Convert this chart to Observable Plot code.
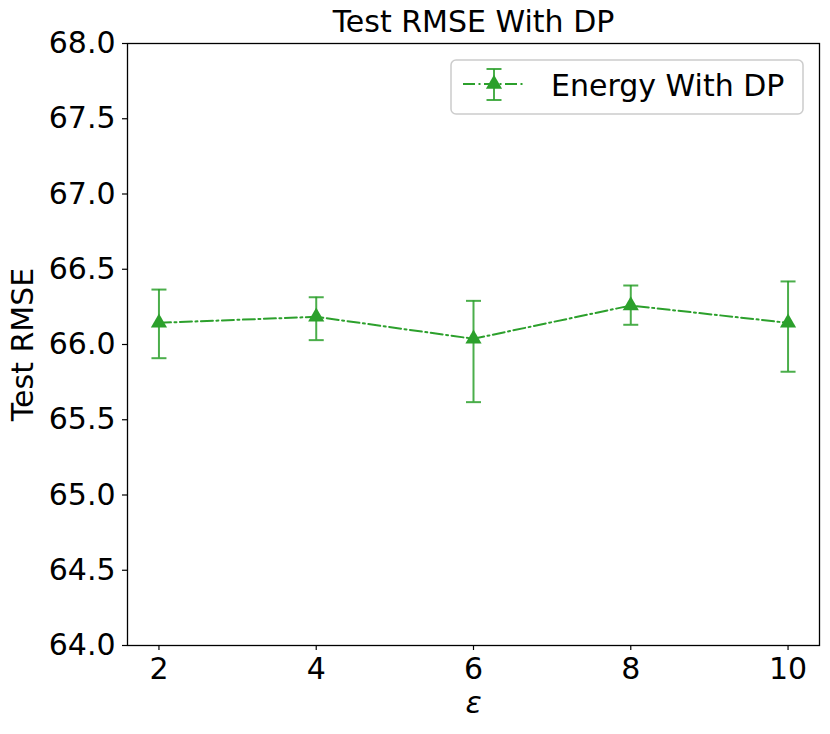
<!DOCTYPE html>
<html>
<head>
<meta charset="utf-8">
<script src="https://cdn.jsdelivr.net/npm/d3@7"></script>
<script src="https://cdn.jsdelivr.net/npm/@observablehq/plot@0.6"></script>
<style>
  body { margin: 0; background: white; font-family: "DejaVu Sans", sans-serif; }
  #wrap { position: relative; width: 830px; height: 734px; }
  #legend { position: absolute; left: 450px; top: 59px; }
</style>
</head>
<body>
<div id="wrap"></div>
<script>
const epsilon = [2, 4, 6, 8, 10];
const rmseMean = [66.144, 66.184, 66.038, 66.259, 66.144];
const rmseLow  = [65.909, 66.029, 65.617, 66.131, 65.819];
const rmseHigh = [66.365, 66.314, 66.290, 66.392, 66.419];
const xTicks = [2, 4, 6, 8, 10];
const yTicks = [64, 64.5, 65, 65.5, 66, 66.5, 67, 67.5, 68];
const seriesName = "Energy With DP";
const titleText = "Test RMSE With DP";
const yLabel = "Test RMSE";
const xLabel = "ε";

const green = "#2ca02c";
const data = epsilon.map((e, i) => ({eps: e, mean: rmseMean[i], low: rmseLow[i], high: rmseHigh[i]}));

const capSymbol = {
  draw(context, size) {
    const w = Math.sqrt(size / Math.PI);
    context.moveTo(-w, 0);
    context.lineTo(w, 0);
  }
};

const chart = Plot.plot({
  width: 830,
  height: 734,
  marginLeft: 127,
  marginRight: 11,
  marginTop: 43,
  marginBottom: 89,
  style: {fontFamily: "DejaVu Sans", fontSize: "30px", color: "black", background: "white"},
  x: {domain: [1.6, 10.4]},
  y: {domain: [64, 68]},
  marks: [
    Plot.axisX({ticks: xTicks, tickSize: 5, tickPadding: 7, fontSize: 30, label: null, strokeWidth: 1.2}),
    Plot.axisY({ticks: yTicks, tickFormat: d3.format(".1f"), tickSize: 5, tickPadding: 7, fontSize: 30, label: null, strokeWidth: 1.2}),
    Plot.ruleX(data, {x: "eps", y1: "low", y2: "high", stroke: green, strokeWidth: 2, strokeOpacity: 0.85}),
    Plot.dot(data, {x: "eps", y: "low", symbol: capSymbol, r: 7.5, stroke: green, strokeWidth: 2, strokeOpacity: 0.85}),
    Plot.dot(data, {x: "eps", y: "high", symbol: capSymbol, r: 7.5, stroke: green, strokeWidth: 2, strokeOpacity: 0.85}),
    Plot.line(data, {x: "eps", y: "mean", stroke: green, strokeWidth: 2, strokeDasharray: "12,3.5,2,3.5"}),
    Plot.dot(data, {x: "eps", y: "mean", symbol: "triangle", r: 6, fill: green, stroke: "none"}),
    Plot.frame({stroke: "black", strokeWidth: 1.3}),
    Plot.text([titleText], {text: d => d, frameAnchor: "top", lineAnchor: "middle", dy: -21, fontSize: 30}),
    Plot.text([yLabel], {text: d => d, frameAnchor: "left", textAnchor: "middle", lineAnchor: "middle", rotate: -90, dx: -104, fontSize: 30}),
    Plot.text([xLabel], {text: d => d, frameAnchor: "bottom", lineAnchor: "middle", dy: 58, fontSize: 30, fontStyle: "italic"})
  ]
});

const wrap = document.getElementById("wrap");
wrap.appendChild(chart);

// Legend
const legend = document.createElementNS("http://www.w3.org/2000/svg", "svg");
legend.setAttribute("id", "legend");
legend.setAttribute("width", 356);
legend.setAttribute("height", 58);
legend.innerHTML = `
  <rect x="1" y="1" width="352" height="54" rx="5" ry="5" fill="white" fill-opacity="0.8" stroke="#cccccc" stroke-width="1.5"/>
  <line x1="13" y1="25" x2="76" y2="25" stroke="${green}" stroke-width="2" stroke-dasharray="12,3.5,2,3.5"/>
  <line x1="44" y1="10" x2="44" y2="41" stroke="${green}" stroke-width="2" stroke-opacity="0.85"/>
  <line x1="36.5" y1="10" x2="51.5" y2="10" stroke="${green}" stroke-width="2" stroke-opacity="0.85"/>
  <line x1="36.5" y1="41" x2="51.5" y2="41" stroke="${green}" stroke-width="2" stroke-opacity="0.85"/>
  <path d="${d3.symbol(d3.symbolTriangle, Math.PI * 6 * 6)()}" transform="translate(44,25)" fill="${green}"/>
  <text x="101" y="37" font-family="DejaVu Sans" font-size="30" fill="black">${seriesName}</text>
`;
wrap.appendChild(legend);
</script>
</body>
</html>
